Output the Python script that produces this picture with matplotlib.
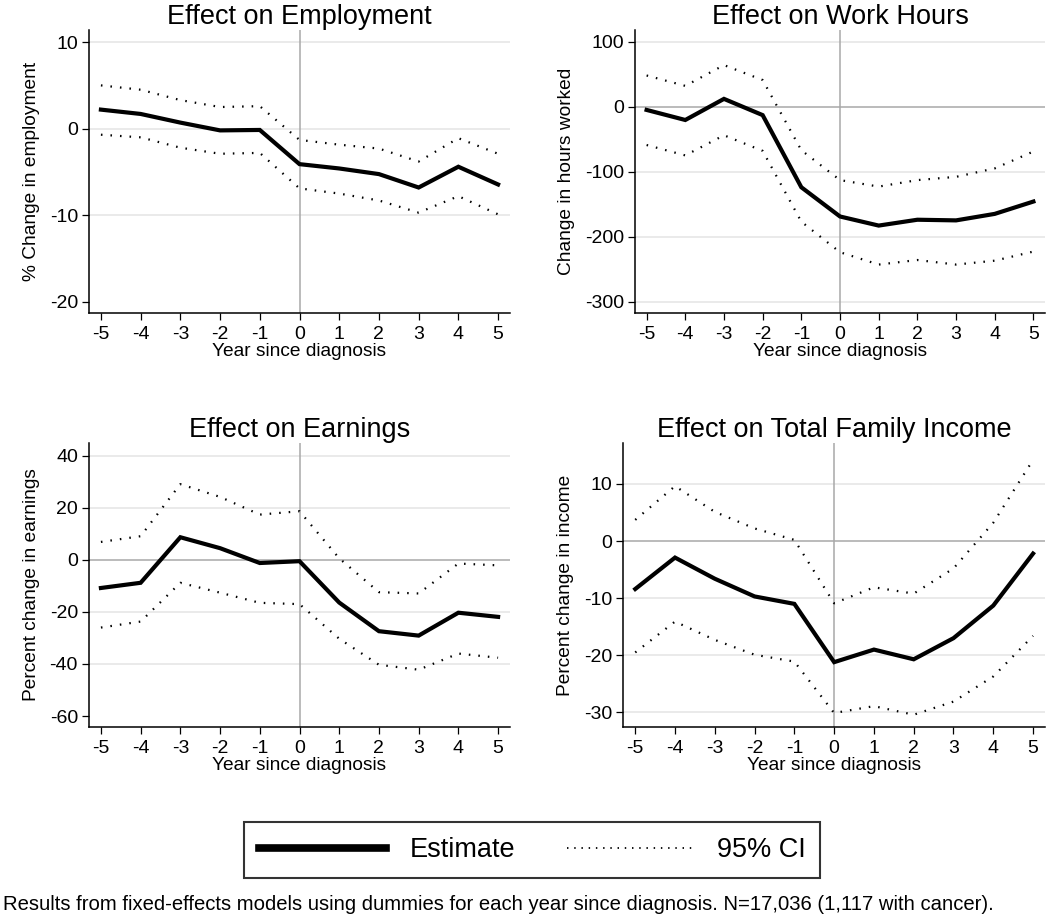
import numpy as np
import matplotlib
matplotlib.use("Agg")
import matplotlib.pyplot as plt
from matplotlib.lines import Line2D

plt.rcParams['font.family'] = ['Liberation Sans', 'DejaVu Sans']
plt.rcParams['axes.unicode_minus'] = False

years = [-5, -4, -3, -2, -1, 0, 1, 2, 3, 4, 5]

# Effect on Employment
emp_est = [2.2, 1.7, 0.7, -0.2, -0.15, -4.1, -4.6, -5.25, -6.8, -4.4, -6.45]
emp_hi = [5.0, 4.5, 3.3, 2.5, 2.6, -1.3, -1.85, -2.3, -3.8, -1.1, -2.9]
emp_lo = [-0.7, -1.0, -2.2, -2.9, -2.8, -6.9, -7.5, -8.3, -9.7, -7.8, -9.9]

# Effect on Work Hours
hrs_est = [-5, -20.5, 12, -13, -124, -169, -183, -174, -175, -165, -146]
hrs_hi = [48, 32, 64, 41, -67, -113, -123, -113, -108, -95, -69]
hrs_lo = [-59, -75, -44, -68, -177, -224, -243, -236, -243, -237, -223]

# Effect on Earnings
ern_est = [-10.8, -8.8, 8.7, 4.5, -1.2, -0.5, -16.4, -27.4, -29.1, -20.3, -21.9]
ern_hi = [6.9, 9.1, 29.1, 24.2, 17.4, 18.7, 0.6, -12.4, -12.9, -1.4, -2.1]
ern_lo = [-26.0, -23.7, -8.8, -12.6, -16.5, -17.0, -30.3, -40.3, -42.2, -36.0, -37.6]

# Effect on Total Family Income
inc_est = [-8.4, -2.9, -6.6, -9.7, -11.0, -21.2, -19.0, -20.7, -17.0, -11.3, -2.2]
inc_hi = [3.7, 9.6, 5.1, 2.2, 0.2, -10.9, -8.1, -9.2, -4.8, 3.2, 14.2]
inc_lo = [-19.5, -14.1, -17.3, -19.9, -21.1, -30.1, -28.9, -30.4, -28.1, -23.7, -16.6]

titles = ["Effect on Employment", "Effect on Work Hours",
          "Effect on Earnings", "Effect on Total Family Income"]
ylabels = ["% Change in employment", "Change in hours worked",
           "Percent change in earnings", "Percent change in income"]
yticks = [[-20, -10, 0, 10], [-300, -200, -100, 0, 100],
          [-60, -40, -20, 0, 20, 40], [-30, -20, -10, 0, 10]]
ygrid = [[-10, 10], [-300, -200, -100, 100],
         [-40, -20, 20, 40], [-30, -20, -10, 10]]
ylims = [(-21.3, 11.4), (-318, 118), (-64.1, 44.8), (-32.6, 17.1)]
series = [(emp_est, emp_hi, emp_lo), (hrs_est, hrs_hi, hrs_lo),
          (ern_est, ern_hi, ern_lo), (inc_est, inc_hi, inc_lo)]

W, H = 1050, 923
boxes = [(89, 30, 510, 313), (635, 30, 1045, 313.3),
         (89, 443.3, 510, 726.7), (623.3, 443.3, 1045, 727.3)]

fig = plt.figure(figsize=(W / 100, H / 100), dpi=100)

gridc = "#e4e4e4"
refc = "#a8a8a8"
dots = (0, (0.7, 3.6))

for i in range(4):
    l, t, r, b = boxes[i]
    ax = fig.add_axes([l / W, 1 - b / H, (r - l) / W, (b - t) / H])
    est, hi, lo = series[i]
    for g in ygrid[i]:
        ax.axhline(g, color=gridc, lw=1.1, zorder=0)
    # panel 1 has a light zero line, the others a darker reference line
    ax.axhline(0, color=gridc if i == 0 else refc, lw=1.1, zorder=0)
    ax.axvline(0, color=refc, lw=1.1, zorder=0)
    ax.plot(years, hi, color="black", lw=1.6, linestyle=dots)
    ax.plot(years, lo, color="black", lw=1.6, linestyle=dots)
    ax.plot(years, est, color="black", lw=3.0, solid_joinstyle="miter")
    ax.set_xlim(-5.3, 5.3)
    ax.set_ylim(*ylims[i])
    ax.set_xticks(years)
    ax.set_yticks(yticks[i])
    ax.spines["top"].set_visible(False)
    ax.spines["right"].set_visible(False)
    for s in ("left", "bottom"):
        ax.spines[s].set_linewidth(1.1)
    ax.tick_params(direction="out", length=5, width=0.9, labelsize=14,
                   colors="black")
    ax.tick_params(axis="x", pad=4.5)
    ax.tick_params(axis="y", pad=3)
    ax.set_xlabel("Year since diagnosis", fontsize=13.8, labelpad=0)
    ax.set_ylabel(ylabels[i], fontsize=13.8, labelpad=7)
    ax.set_title(titles[i], fontsize=19.5, pad=4)

handles = [Line2D([], [], color="black", lw=5.5),
           Line2D([], [], color="black", lw=1.3, linestyle=(0, (0.8, 3.2)))]
leg = fig.legend(handles, ["Estimate", "95% CI"], loc="center",
                 bbox_to_anchor=(0.507, 0.079), ncol=2, fontsize=19.5,
                 frameon=True, fancybox=False, edgecolor="black",
                 handlelength=4.7, handletextpad=0.85, columnspacing=1.9,
                 borderpad=0.55)
leg.get_frame().set_linewidth(1.5)

fig.text(0.003, 1 - 905 / H,
         "Results from fixed-effects models using dummies for each year since diagnosis. N=17,036 (1,117 with cancer).",
         fontsize=14.6, va="center", ha="left")

fig.savefig("out.png", dpi=100)
